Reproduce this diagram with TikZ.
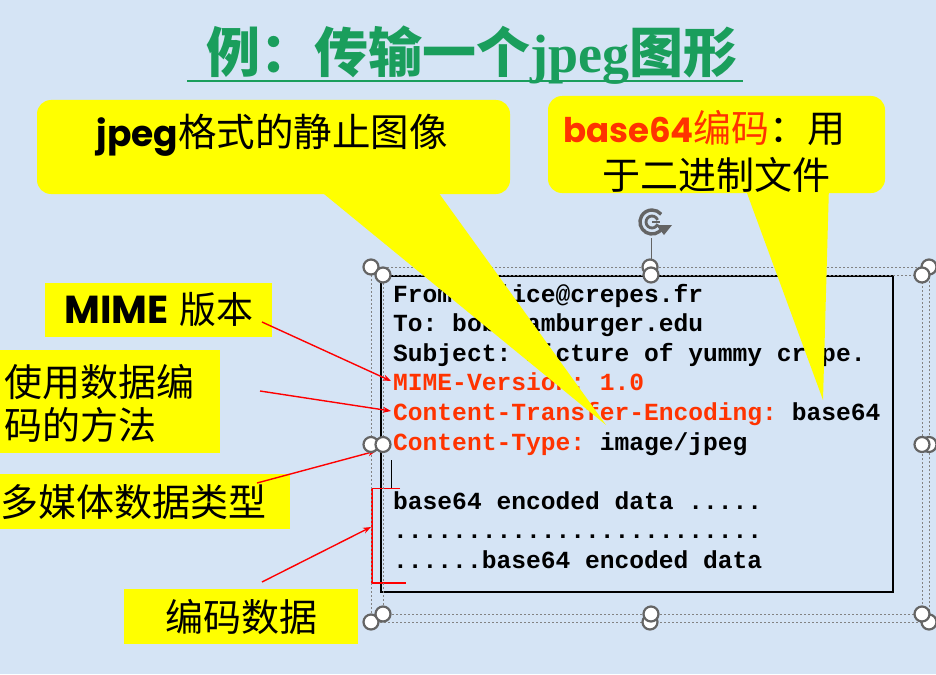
\documentclass[tikz,border=0pt]{standalone}
\usepackage{fontspec}
\usepackage{graphicx}
\usetikzlibrary{arrows.meta}
\setmainfont{Liberation Serif}
\newfontfamily\zhfont{Noto Sans CJK SC}
\newfontfamily\comicfont{Poppins}
\newfontfamily\mailfont{Liberation Mono}
\frenchspacing

\definecolor{slidebg}{RGB}{213,228,245}
\definecolor{calloutyellow}{RGB}{255,255,0}
\definecolor{titlegreen}{RGB}{26,158,92}
\definecolor{hdrred}{RGB}{255,51,0}
\definecolor{handlegray}{RGB}{100,100,100}
\definecolor{dotgray}{RGB}{130,130,130}

\tikzset{
  callout/.style={fill=calloutyellow, rounded corners=14pt, inner sep=0pt, draw=none},
  tag/.style={fill=calloutyellow, inner sep=0pt, draw=none},
  zh/.style={font=\zhfont\fontsize{38}{44}\selectfont, inner sep=0pt},
  mailline/.style={font=\mailfont\bfseries\fontsize{24.6}{29.6}\selectfont, anchor=base west, inner sep=0pt},
  pointer/.style={draw=red, line width=1.4pt, -{Stealth[length=8pt,width=6pt]}},
  handle/.style={circle, draw=handlegray, fill=white, line width=2.2pt, minimum size=15pt, inner sep=0pt},
  selframe/.style={draw=dotgray, line width=0.7pt, dash pattern=on 2pt off 2pt},
}

\begin{document}
\begin{tikzpicture}[x=1pt,y=-1pt]
% slide background
\fill[slidebg] (0,0) rectangle (936,674);
\useasboundingbox (0,0) rectangle (936,674);

% title
\node[anchor=base, inner sep=0pt, text=titlegreen] (title) at (472,73)
  {\zhfont\bfseries\fontsize{54}{60}\selectfont 例：传输一个{\rmfamily\bfseries jpeg}图形};
\draw[titlegreen, line width=2.5pt] (187,81) -- (743,81);

% message text box
\node[draw=black, line width=1.2pt, minimum width=512pt, minimum height=316pt, inner sep=0pt] (mail) at (637,434) {};
\node[mailline] (l1) at (393,302.0) {From: alice@crepes.fr};
\node[mailline] (l2) at (393,331.6) {To: bob@hamburger.edu};
\node[mailline] (l3) at (393,361.2) {Subject: Picture of yummy crepe.};
\node[mailline] (l4) at (393,390.8) {\color{hdrred}MIME-Version: 1.0};
\node[mailline] (l5) at (393,420.4) {{\color{hdrred}Content-Transfer-Encoding:} base64};
\node[mailline] (l6) at (393,450.0) {{\color{hdrred}Content-Type:} image/jpeg};
\node[mailline] (l7) at (393,509.2) {base64 encoded data .....};
\node[mailline] (l8) at (393,538.8) {.........................};
\node[mailline] (l9) at (393,568.4) {......base64 encoded data};

% text cursor and bracket around the encoded data
\draw[black, line width=0.8pt] (391,460) -- (391,488);
\draw[red, line width=1.5pt] (400,488.5) -- (372,488.5) -- (372,583) -- (406,583);

% selection frames
\draw[selframe] (371,267) rectangle (929,622);
\draw[selframe] (383,275) rectangle (922,614);

% rotation handle
\draw[handlegray, line width=1pt] (651,238) -- (651,262);
\draw[handlegray, line width=3.4pt] ([shift={(30:12)}]652,222) arc[start angle=30, end angle=320, radius=12];
\draw[handlegray, line width=2.8pt] ([shift={(20:6)}]652,222) arc[start angle=20, end angle=340, radius=6];
\draw[handlegray, line width=2.4pt] (652,222) -- (660,222);
\fill[handlegray] (656,225) -- (672,225) -- (664,235) -- cycle;

% side labels
\node[tag, minimum width=227pt, minimum height=54pt] (tagmime) at (158.5,310) {};
\node[inner sep=0pt] (tagmimetext) at (159,309)
  {{\comicfont\bfseries\fontsize{39}{44}\selectfont MIME}\hspace{11pt}{\zhfont\fontsize{37}{44}\selectfont 版本}};
\node[tag, minimum width=220pt, minimum height=103pt] (tagcte) at (110,401.5) {};
\node[zh, anchor=west] (tagctea) at (4,382) {使用数据编};
\node[zh, anchor=west] (tagcteb) at (4,425) {码的方法};
\node[tag, minimum width=290pt, minimum height=55pt] (tagtype) at (145,501.5) {};
\node[zh, anchor=west] (tagtypetext) at (0,502) {多媒体数据类型};
\node[tag, minimum width=234pt, minimum height=55pt] (tagdata) at (241,616.5) {};
\node[zh] (tagdatatext) at (241,617) {编码数据};

% pointers from labels to header lines
\coordinate (s1) at (262,322);  \coordinate (e1) at (391,381);
\coordinate (s2) at (260,391);  \coordinate (e2) at (391,411);
\coordinate (s3) at (257,483);  \coordinate (e3) at (376,451);
\coordinate (s4) at (262,582);  \coordinate (e4) at (371,527);
\draw[pointer] (s1) -- (e1);
\draw[pointer] (s2) -- (e2);
\draw[pointer] (s3) -- (e3);
\draw[pointer] (s4) -- (e4);

% selection handles
\foreach \hx/\hy in {371/267, 650/267, 929/267, 371/444.5, 929/444.5, 371/622, 650/622, 929/622}
  \node[handle] at (\hx,\hy) {};
\foreach \hx/\hy in {383/275, 651/275, 922/275, 383/444.5, 922/444.5, 383/614, 651/614, 922/614}
  \node[handle] at (\hx,\hy) {};

% callout: jpeg image
\node[callout, minimum width=473pt, minimum height=94pt] (jpegbox) at (273.5,147) {};
\coordinate (jpegtip) at (606,425);
\fill[calloutyellow] (313,185) -- (433,185) -- (jpegtip) -- cycle;
\node[inner sep=0pt] (jpegtext) at (272,135)
  {{\comicfont\bfseries\fontsize{36}{44}\selectfont jpeg}{\zhfont\fontsize{38.5}{44}\selectfont 格式的静止图像}};

% callout: base64 encoding
\node[callout, minimum width=337pt, minimum height=97pt] (b64box) at (716.5,144.5) {};
\coordinate (b64tip) at (823,400);
\fill[calloutyellow] (744,185) -- (829,185) -- (b64tip) -- cycle;
\node[inner sep=0pt, anchor=west] (b64a) at (563,128)
  {{\comicfont\bfseries\fontsize{34}{44}\selectfont\color{hdrred}base64}{\zhfont\fontsize{38}{44}\selectfont{\color{hdrred}编码}：用}};
\node[zh, anchor=west] (b64b) at (602,175) {于二进制文件};
\end{tikzpicture}
\end{document}
